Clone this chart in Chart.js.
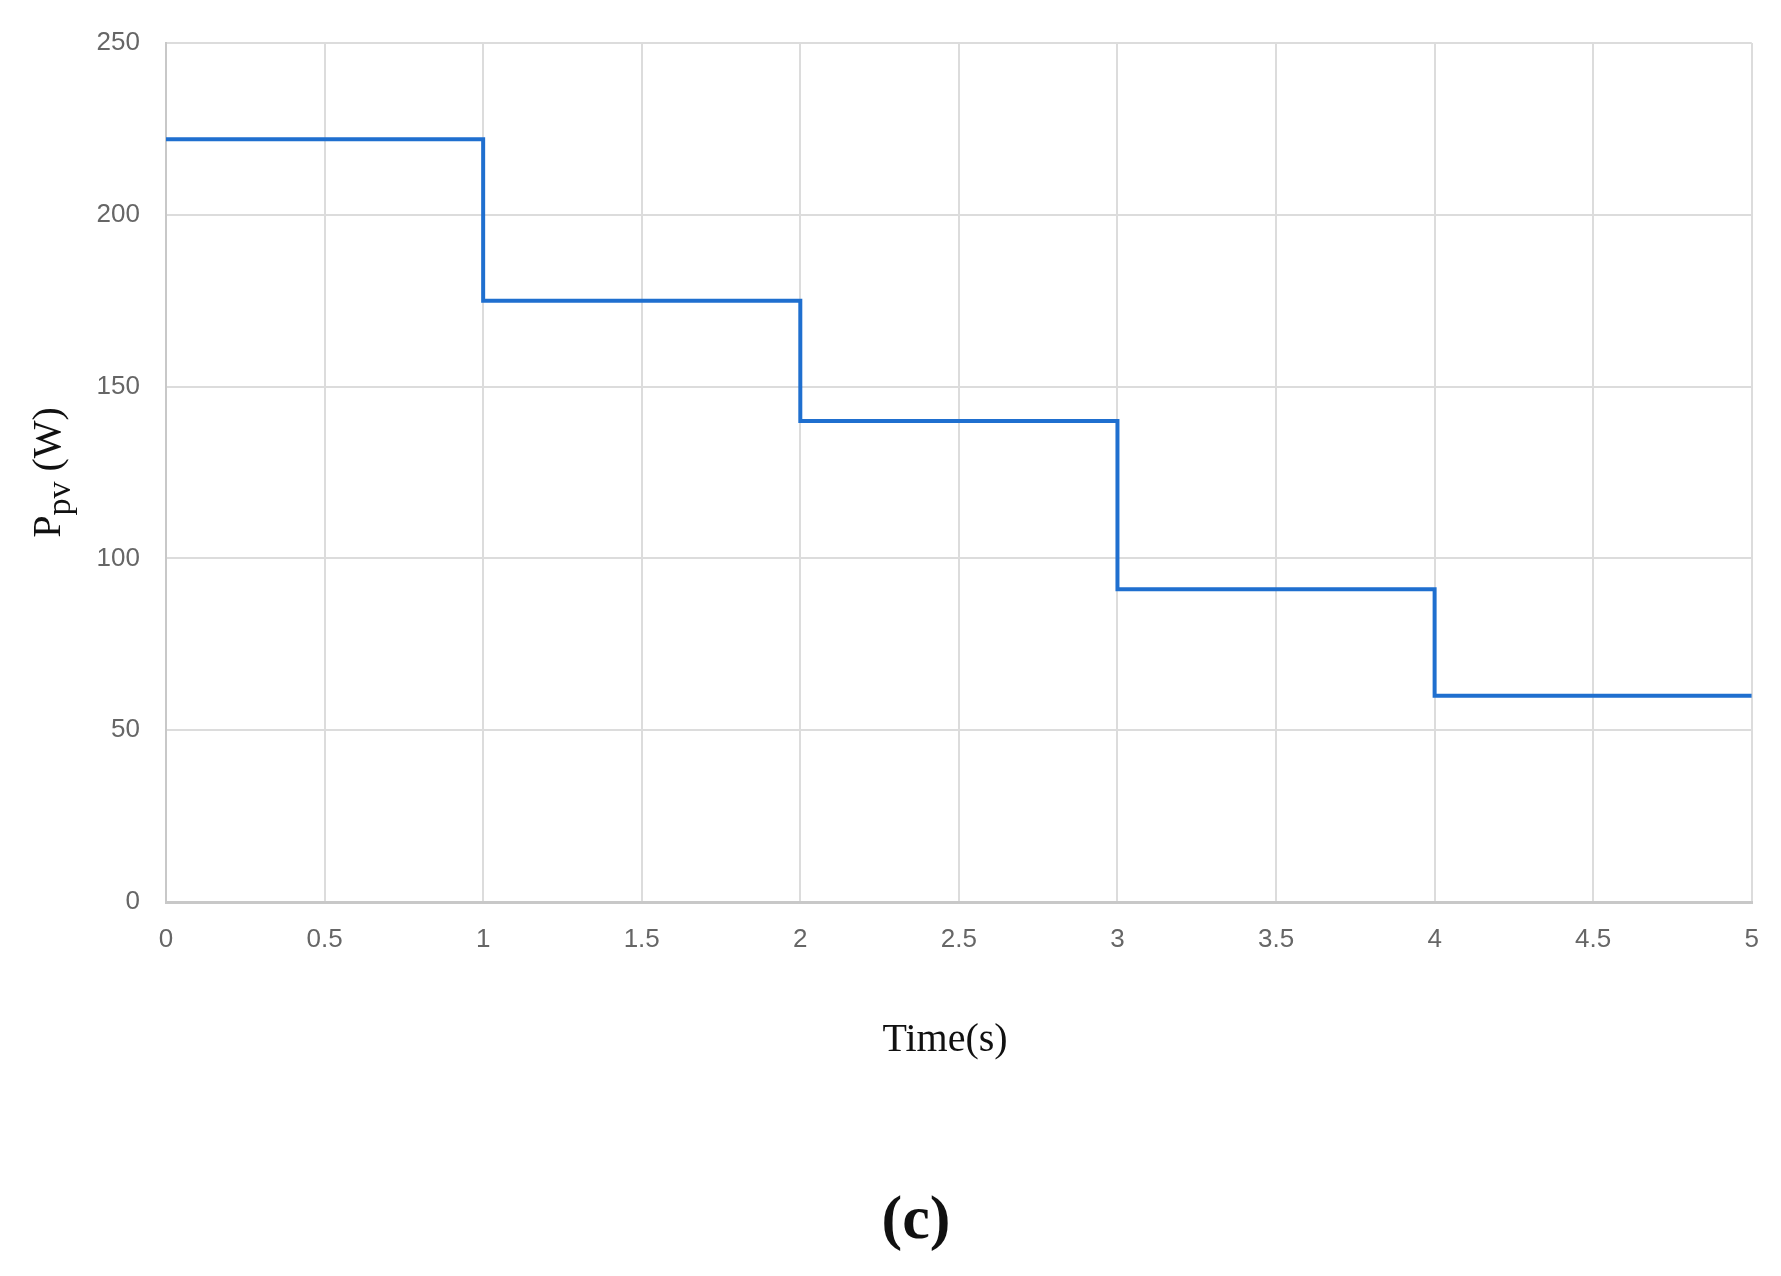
<!DOCTYPE html>
<html>
<head>
<meta charset="utf-8">
<script src="https://cdn.jsdelivr.net/npm/chart.js@4/dist/chart.umd.min.js"></script>
<style>
  html, body { margin: 0; padding: 0; background: #fff; }
  #wrap { width: 1781px; height: 1276px; }
</style>
</head>
<body>
<div id="wrap"><canvas id="pvChart"></canvas></div>
<script>
// step changes of PV power
const stepTimes = [0, 1, 2, 3, 4, 5];
const powerValues = [222, 175, 140, 91, 60, 60];
const xTicks = [0, 0.5, 1, 1.5, 2, 2.5, 3, 3.5, 4, 4.5, 5];
const yTicks = [0, 50, 100, 150, 200, 250];

const points = stepTimes.map((t, i) => ({ x: t, y: powerValues[i] }));

// axis titles, caption and the subscript in Ppv
const labelsPlugin = {
  id: 'labels',
  afterDraw(chart) {
    const c = chart.ctx;
    const area = chart.chartArea;
    c.save();
    c.fillStyle = '#111';
    c.textAlign = 'center';
    c.textBaseline = 'middle';
    c.font = '40px "Liberation Serif"';
    c.fillText('Time(s)', 945, 1040);
    c.font = 'bold 62px "Liberation Serif"';
    c.fillText('(c)', 916, 1222);

    // rotated y title: P + subscript pv + (W)
    c.translate(46, (area.top + area.bottom) / 2);
    c.rotate(-Math.PI / 2);
    c.textAlign = 'left';
    c.textBaseline = 'alphabetic';
    const big = '40px "Liberation Serif"';
    const small = '34px "Liberation Serif"';
    c.font = big;
    const wP = c.measureText('P').width;
    c.font = small;
    const wSub = c.measureText('pv').width;
    c.font = big;
    const wRest = c.measureText(' (W)').width;
    let x = -(wP + wSub + wRest) / 2;
    c.fillText('P', x, 14);
    x += wP;
    c.font = small;
    c.fillText('pv', x, 24);
    x += wSub;
    c.font = big;
    c.fillText(' (W)', x, 14);
    c.restore();
  }
};

const tickFont = { family: '"Liberation Sans Narrow", "Liberation Sans", sans-serif', size: 26 };

new Chart(document.getElementById('pvChart'), {
  type: 'line',
  data: {
    datasets: [{
      data: points,
      stepped: 'before',
      borderColor: '#1f6fcf',
      borderWidth: 4,
      pointRadius: 0,
      fill: false
    }]
  },
  options: {
    responsive: true,
    maintainAspectRatio: false,
    animation: false,
    layout: { padding: { top: 43, right: 26, left: 0, bottom: 0 } },
    plugins: { legend: { display: false }, tooltip: { enabled: false } },
    scales: {
      x: {
        type: 'linear',
        min: 0,
        max: 5,
        afterBuildTicks(scale) { scale.ticks = xTicks.map(v => ({ value: v })); },
        afterFit(scale) { scale.height = 374; },
        ticks: { color: '#666', font: tickFont, padding: 22, maxRotation: 0, callback: v => String(v) },
        grid: { color: '#dcdcdc', lineWidth: 2, drawTicks: false },
        border: { color: '#c8c8c8', width: 3 }
      },
      y: {
        min: 0,
        max: 250,
        afterBuildTicks(scale) { scale.ticks = yTicks.map(v => ({ value: v })); },
        afterFit(scale) { scale.width = 166; },
        ticks: { color: '#666', font: tickFont, padding: 26 },
        grid: { color: '#dcdcdc', lineWidth: 2, drawTicks: false },
        border: { color: '#c8c8c8', width: 2 }
      }
    }
  },
  plugins: [labelsPlugin]
});
</script>
</body>
</html>
